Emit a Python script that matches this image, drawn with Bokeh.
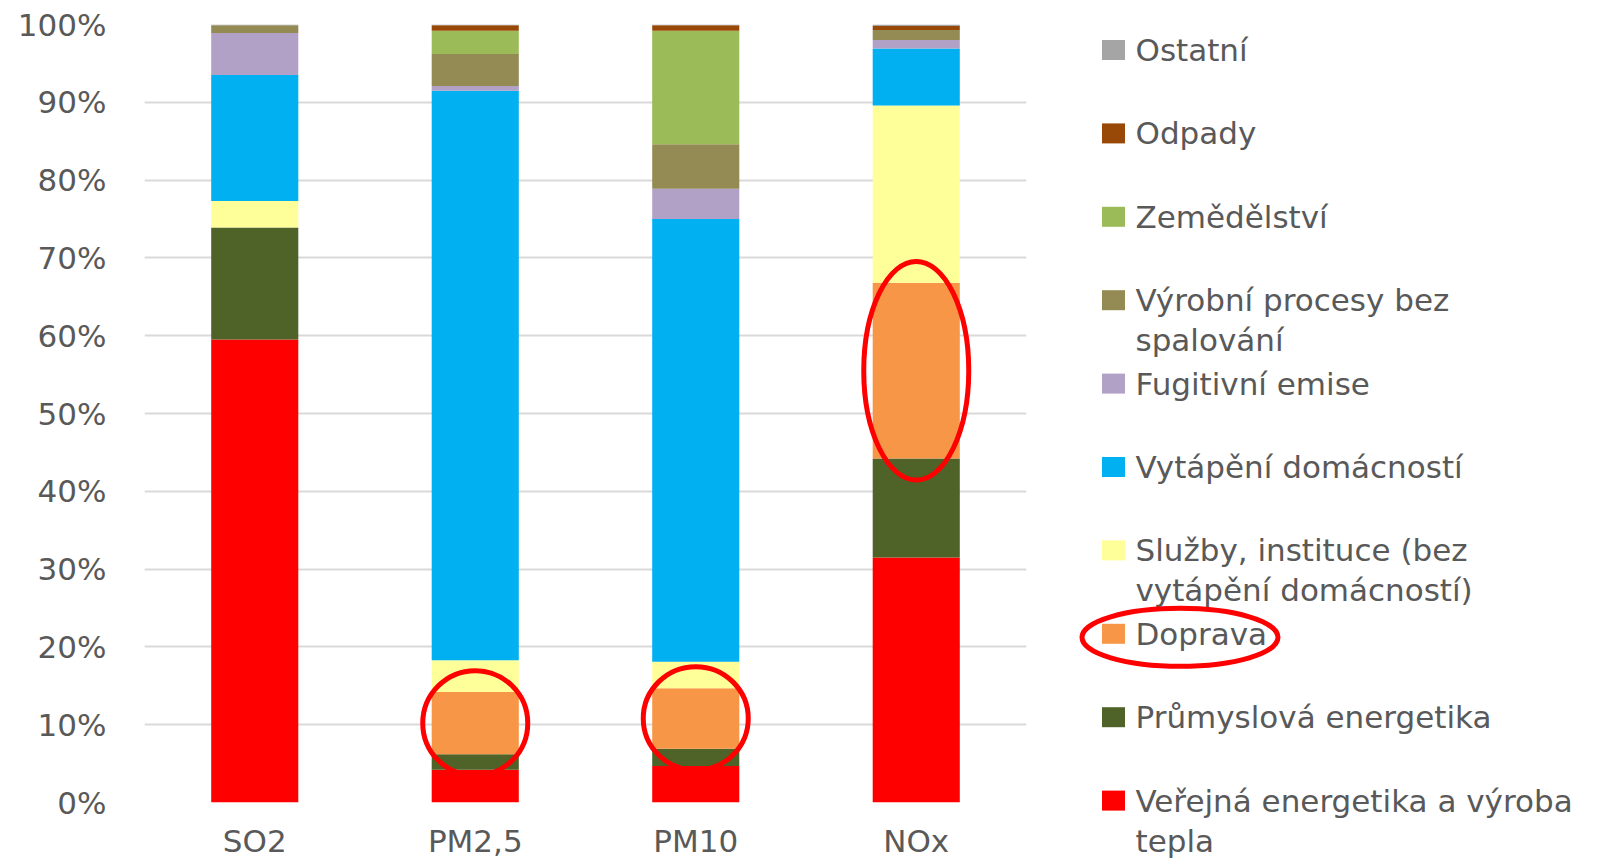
from bokeh.plotting import figure
from bokeh.models import (ColumnDataSource, Range1d, FixedTicker,
                          PrintfTickFormatter, LinearScale)
from bokeh.core.properties import value
from bokeh.embed import file_html
from bokeh.resources import INLINE

# ---------------- data (shares in %, stacked bottom -> top) ----------------
categories = ["SO2", "PM2,5", "PM10", "NOx"]

verejna_energetika = [59.5, 4.2, 4.7, 31.5]
prumyslova_energetika = [14.4, 2.0, 2.2, 12.7]
doprava = [0.0, 8.0, 7.8, 22.6]
sluzby = [3.4, 4.1, 3.4, 22.8]
vytapeni = [16.2, 73.2, 56.9, 7.3]
fugitivni = [5.4, 0.6, 3.9, 1.1]
vyrobni_procesy = [1.0, 4.1, 5.7, 1.3]
zemedelstvi = [0.0, 3.0, 14.6, 0.0]
odpady = [0.0, 0.7, 0.7, 0.5]
ostatni = [0.1, 0.1, 0.1, 0.2]

series_keys = ["verejna", "prumyslova", "doprava", "sluzby", "vytapeni",
               "fugitivni", "vyrobni", "zemedelstvi", "odpady", "ostatni"]
series_values = [verejna_energetika, prumyslova_energetika, doprava, sluzby, vytapeni,
                 fugitivni, vyrobni_procesy, zemedelstvi, odpady, ostatni]
series_labels = ["Veřejná energetika a výroba\ntepla",
                 "Průmyslová energetika",
                 "Doprava",
                 "Služby, instituce (bez\nvytápění domácností)",
                 "Vytápění domácností",
                 "Fugitivní emise",
                 "Výrobní procesy bez\nspalování",
                 "Zemědělství",
                 "Odpady",
                 "Ostatní"]
series_colors = ["#FF0000", "#4F6228", "#F79646", "#FFFF99", "#00B0F0",
                 "#B2A1C7", "#948A54", "#9BBB59", "#984807", "#A5A5A5"]

y_ticks = list(range(0, 101, 10))
highlighted = ["PM2,5", "PM10", "NOx"]

FONT = "DejaVu Sans"
FONT_SIZE = "31px"
TEXT_COLOR = "#595959"

# ---------------- layout constants (pixels) ----------------
W, H = 1613, 861
LEFT, TOP, FRAME_W, FRAME_H = 144, 24, 882, 778
RIGHT = W - LEFT - FRAME_W
BOTTOM = H - TOP - FRAME_H

# ---------------- chart ----------------
cat_pos = [i + 0.5 for i in range(len(categories))]   # slot centres on the x scale
data = {"cat": categories, "pos": cat_pos}
for k, v in zip(series_keys, series_values):
    data[k] = v
src = ColumnDataSource(data)

p = figure(x_range=Range1d(0, len(categories)), y_range=Range1d(0, 100),
           width=W, height=H, output_backend="svg", toolbar_location=None,
           min_border_left=LEFT, min_border_right=RIGHT,
           min_border_top=TOP, min_border_bottom=BOTTOM)
p.background_fill_color = "white"
p.border_fill_color = "white"
p.outline_line_color = None

# pixel-identity ranges for the legend drawn in the right margin
p.extra_x_ranges = {"px": Range1d(LEFT, LEFT + FRAME_W)}
p.extra_x_scales = {"px": LinearScale()}
p.extra_y_ranges = {"px": Range1d(TOP + FRAME_H, TOP)}
p.extra_y_scales = {"px": LinearScale()}

p.vbar_stack(series_keys, x="pos", width=0.395, source=src,
             fill_color=series_colors, line_color=None)

# red highlight ellipses around the "Doprava" segments
hx, hy, hh = [], [], []
for c in highlighted:
    i = categories.index(c)
    base = verejna_energetika[i] + prumyslova_energetika[i]
    hx.append(cat_pos[i])
    hy.append(base + doprava[i] / 2)
    hh.append(doprava[i] + 5.5)
p.ellipse(x=hx, y=hy, width=105, height=hh, width_units="screen",
          fill_color=None, line_color="#FF0000", line_width=5)

p.xgrid.grid_line_color = None
p.ygrid.grid_line_color = "#D9D9D9"
p.ygrid.grid_line_width = 2

p.yaxis.ticker = FixedTicker(ticks=y_ticks)
p.yaxis.formatter = PrintfTickFormatter(format="%d%%")
ax = p.yaxis[0]
ax.axis_line_color = None
ax.major_tick_line_color = None
ax.minor_tick_line_color = None
ax.major_tick_out = 0
ax.major_tick_in = 0
ax.major_label_text_font = FONT
ax.major_label_text_font_size = FONT_SIZE
ax.major_label_text_color = TEXT_COLOR
ax.major_label_standoff = 38
p.xaxis.visible = False

# category labels under the bars (unclipped overlay level)
p.text(x=cat_pos, y=[-5.0] * len(categories), text=categories,
       text_align="center", text_baseline="middle",
       text_font=value(FONT), text_font_size=FONT_SIZE, text_color=TEXT_COLOR,
       level="overlay")

# ---------------- legend in the right margin ----------------
LEG_TOP, LEG_STEP, LINE_STEP = 49.5, 83.4, 40
MARK_X, MARK_W, MARK_H, TEXT_X = 1113, 23, 20, 1135

order = list(reversed(range(len(series_keys))))
ys = [LEG_TOP + LEG_STEP * n for n in range(len(order))]
p.rect(x=[MARK_X] * len(ys), y=ys, width=MARK_W, height=MARK_H,
       fill_color=[series_colors[k] for k in order], line_color=None,
       x_range_name="px", y_range_name="px", level="overlay")

first_lines = [series_labels[k].split("\n")[0] for k in order]
p.text(x=[TEXT_X] * len(ys), y=ys, text=first_lines, text_baseline="middle", text_align="left",
       text_font=value(FONT), text_font_size=FONT_SIZE, text_color=TEXT_COLOR,
       x_range_name="px", y_range_name="px", level="overlay")

sx, sy, st = [], [], []
for n, k in enumerate(order):
    parts = series_labels[k].split("\n")
    if len(parts) > 1:
        sx.append(TEXT_X)
        sy.append(ys[n] + LINE_STEP)
        st.append(parts[1])
p.text(x=sx, y=sy, text=st, text_baseline="middle", text_align="left",
       text_font=value(FONT), text_font_size=FONT_SIZE, text_color=TEXT_COLOR,
       x_range_name="px", y_range_name="px", level="overlay")

j = order.index(series_keys.index("doprava"))
p.ellipse(x=[1179.5], y=[ys[j] + 3.5], width=196, height=58,
          fill_color=None, line_color="#FF0000", line_width=5,
          x_range_name="px", y_range_name="px", level="overlay")

open("out.html", "w").write(file_html(p, INLINE))
